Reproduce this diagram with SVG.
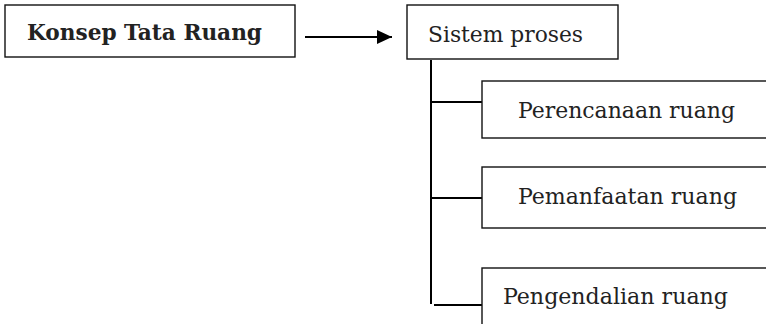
<svg xmlns="http://www.w3.org/2000/svg" width="766" height="324" viewBox="0 0 766 324">
<defs>
<style>
.box{fill:#fff;stroke:#111;stroke-width:1.4}
.t{font-family:"DejaVu Serif Condensed","DejaVu Serif","Liberation Serif",serif;font-stretch:condensed;font-size:23px;fill:#222}
.b{font-weight:bold}
.c{stroke:#000;stroke-width:2;fill:none}
</style>
<marker id="ah" markerWidth="16" markerHeight="14" refX="15" refY="7" orient="auto" markerUnits="userSpaceOnUse">
<path d="M0,0 L15,7 L0,14 Z" fill="#000"/>
</marker>
</defs>
<rect width="766" height="324" fill="#fff"/>
<g id="connectors">
<line class="c" x1="305" y1="37" x2="392" y2="37" stroke-width="2.4" marker-end="url(#ah)"/>
<line class="c" x1="431" y1="60" x2="431" y2="304"/>
<line class="c" x1="431" y1="102" x2="482" y2="102"/>
<line class="c" x1="431" y1="198" x2="482" y2="198"/>
<line class="c" x1="434" y1="305" x2="482" y2="305"/>
</g>
<g id="konsep">
<rect class="box" x="5" y="5" width="290" height="52"/>
<text class="t b" x="27" y="40" textLength="235" lengthAdjust="spacingAndGlyphs">Konsep Tata Ruang</text>
</g>
<g id="sistem">
<rect class="box" x="407" y="5" width="211" height="54"/>
<text class="t" x="428" y="42" textLength="155" lengthAdjust="spacingAndGlyphs">Sistem proses</text>
</g>
<g id="perencanaan">
<rect class="box" x="482" y="81" width="300" height="57"/>
<text class="t" x="518" y="118" textLength="217" lengthAdjust="spacingAndGlyphs">Perencanaan ruang</text>
</g>
<g id="pemanfaatan">
<rect class="box" x="482" y="167" width="300" height="61"/>
<text class="t" x="518" y="204" textLength="219" lengthAdjust="spacingAndGlyphs">Pemanfaatan ruang</text>
</g>
<g id="pengendalian">
<rect class="box" x="482" y="268" width="300" height="80"/>
<text class="t" x="503" y="304" textLength="225" lengthAdjust="spacingAndGlyphs">Pengendalian ruang</text>
</g>
</svg>
